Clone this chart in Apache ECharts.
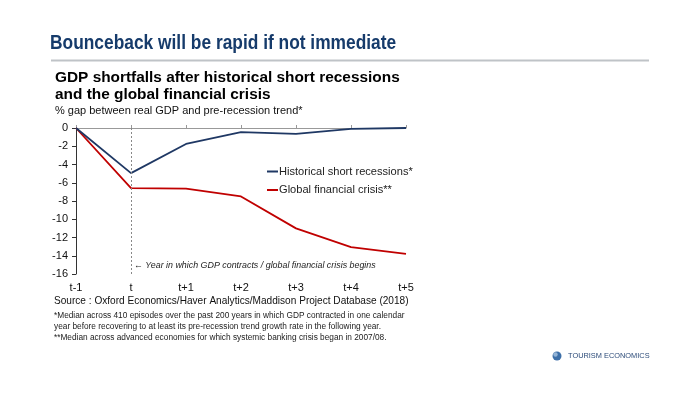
<!DOCTYPE html>
<html>
<head>
<meta charset="utf-8">
<script src="https://cdn.jsdelivr.net/npm/echarts@6/dist/echarts.min.js"></script>
<style>
html,body{margin:0;padding:0;background:#fff;}
#chart{width:700px;height:394px;}
</style>
</head>
<body>
<div id="chart"></div>
<script>
var categories = ['t-1', 't', 't+1', 't+2', 't+3', 't+4', 't+5'];
var historicalShort = [0, -4.95, -1.75, -0.45, -0.65, -0.1, 0];
var globalFinancial = [0, -6.6, -6.65, -7.5, -11.0, -13.05, -13.8];
var seriesNames = ['Historical short recessions*', 'Global financial crisis**'];
var yTicks = {min: -16, max: 0, interval: 2};

var chart = echarts.init(document.getElementById('chart'));
var ff = "'Liberation Sans', Arial, sans-serif";
chart.setOption({
  animation: false,
  backgroundColor: '#fff',
  grid: {left: 76, right: 294, top: 128, bottom: 120, containLabel: false},
  legend: {
    orient: 'vertical', left: 262, top: 161, itemGap: 7.5,
    icon: 'rect', itemWidth: 11, itemHeight: 2,
    textStyle: {fontFamily: ff, fontSize: 11.1, color: '#222', padding: [0,0,0,-4]},
    data: seriesNames
  },
  xAxis: [{
    type: 'category', data: categories, boundaryGap: false, position: 'bottom',
    axisLine: {show: false}, axisTick: {show: false},
    axisLabel: {fontFamily: ff, fontSize: 11, color: '#111', margin: 8}
  }, {
    type: 'category', data: categories, boundaryGap: false, position: 'top',
    axisLine: {show: true, lineStyle: {color: '#999', width: 1}},
    axisTick: {show: true, length: 3, lineStyle: {color: '#999'}},
    axisLabel: {show: false}
  }],
  yAxis: {
    type: 'value', min: yTicks.min, max: yTicks.max, interval: yTicks.interval,
    axisLine: {show: true, lineStyle: {color: '#333', width: 1}},
    axisTick: {show: true, length: 4, lineStyle: {color: '#333'}},
    splitLine: {show: false},
    axisLabel: {fontFamily: ff, fontSize: 11, color: '#111', margin: 8}
  },
  series: [{
    name: seriesNames[0], type: 'line', data: historicalShort, symbol: 'none',
    lineStyle: {color: '#1f3864', width: 1.8}, itemStyle: {color: '#1f3864'},
    z: 3,
    markLine: {
      silent: true, symbol: 'none', label: {show: false},
      lineStyle: {color: '#888', type: [2, 2], width: 1},
      data: [{xAxis: 't'}]
    }
  }, {
    name: seriesNames[1], type: 'line', data: globalFinancial, symbol: 'none',
    lineStyle: {color: '#c00000', width: 1.8}, itemStyle: {color: '#c00000'}, z: 2
  }],
  graphic: [
    {type: 'text', x: 50, y: 34, scaleX: 0.89, style: {x: 0, y: 0, text: 'Bounceback will be rapid if not immediate', verticalAlign: 'top', fontFamily: ff, fontWeight: 'bold', fontSize: 19.5, fill: '#163b6b'}},
    {type: 'rect', shape: {x: 51, y: 59.5, width: 598, height: 2}, style: {fill: '#bfc3c7'}},
    {type: 'text', left: 55, top: 69, style: {text: 'GDP shortfalls after historical short recessions\nand the global financial crisis', fontFamily: ff, fontWeight: 'bold', fontSize: 15.4, lineHeight: 17, fill: '#000'}},
    {type: 'text', left: 55, top: 105, style: {text: '% gap between real GDP and pre-recession trend*', fontFamily: ff, fontSize: 11, fill: '#111'}},
    {type: 'text', left: 134, top: 261, style: {text: '\u2190 Year in which GDP contracts / global financial crisis begins', fontFamily: ff, fontStyle: 'italic', fontSize: 8.9, fill: '#222'}},
    {type: 'text', left: 54, top: 296, style: {text: 'Source : Oxford Economics/Haver Analytics/Maddison Project Database (2018)', fontFamily: ff, fontSize: 10.1, fill: '#111'}},
    {type: 'text', left: 54, top: 310, style: {text: '*Median across 410 episodes over the past 200 years in which GDP contracted in one calendar\nyear before recovering to at least its pre-recession trend growth rate in the following year.\n**Median across advanced economies for which systemic banking crisis began in 2007/08.', fontFamily: ff, fontSize: 8.3, lineHeight: 11, fill: '#222'}},
    {type: 'circle', shape: {cx: 557, cy: 356, r: 4.5}, style: {fill: '#3d6fa8'}},
    {type: 'circle', shape: {cx: 555.5, cy: 354.5, r: 2.2}, style: {fill: '#a9c4e0', opacity: 0.8}},
    {type: 'text', left: 568, top: 352, style: {text: 'TOURISM ECONOMICS', fontFamily: ff, fontSize: 7.4, fill: '#2b4a78'}}
  ]
});
</script>
</body>
</html>
